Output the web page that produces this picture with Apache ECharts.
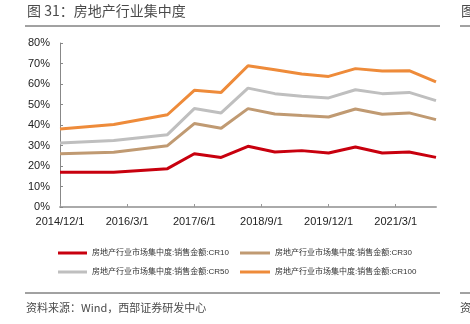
<!DOCTYPE html>
<html>
<head>
<meta charset="utf-8">
<script src="https://cdn.jsdelivr.net/npm/echarts@6/dist/echarts.min.js"></script>
<style>
html,body{margin:0;padding:0;background:#fff;}
#c{width:470px;height:324px;}
</style>
</head>
<body>
<div id="c"></div>
<script>
// Dates of observations (year, month)
const dates = ['2014/12','2015/12','2016/12','2017/6','2017/12','2018/6','2018/12','2019/6','2019/12','2020/6','2020/12','2021/6','2021/12'];
const cr10  = [16.9, 16.9, 18.7, 26.0, 24.2, 29.6, 26.8, 27.5, 26.3, 29.3, 26.3, 26.8, 24.2];
const cr30  = [26.0, 26.7, 29.9, 40.7, 38.4, 48.0, 45.4, 44.6, 43.9, 47.8, 45.2, 45.9, 42.6];
const cr50  = [31.2, 32.4, 35.3, 48.0, 45.9, 58.0, 55.3, 54.0, 53.2, 57.2, 55.3, 55.9, 51.9];
const cr100 = [38.0, 40.2, 45.0, 56.9, 55.9, 68.9, 67.0, 64.9, 63.7, 67.5, 66.3, 66.5, 61.0];
const seriesNames = ['房地产行业市场集中度:销售金额:CR10','房地产行业市场集中度:销售金额:CR30','房地产行业市场集中度:销售金额:CR50','房地产行业市场集中度:销售金额:CR100'];
const xTickLabels = ['2014/12/1','2016/3/1','2017/6/1','2018/9/1','2019/12/1','2021/3/1'];
const yTicks = [0,10,20,30,40,50,60,70,80];

const base = {y:2014, m:12};
function monthIndex(s){const p=s.split('/').map(Number);return (p[0]-base.y)*12+(p[1]-base.m);}
const xs = dates.map(monthIndex);
const tickVals = xTickLabels.map(monthIndex);
const lastX = xs[xs.length-1];
function pts(arr){return arr.map((v,i)=>[xs[i],v]);}

const colors = ['#C8000E','#C09A72','#BFBFBF','#EE8B3A'];
const font = 'Liberation Sans, Arial, Noto Sans CJK SC, sans-serif';
const cjk = 'Noto Sans CJK SC, sans-serif';

const chart = echarts.init(document.getElementById('c'), null, {renderer:'canvas'});
chart.setOption({
  animation:false,
  backgroundColor:'#fff',
  color:colors,
  grid:{left:60,right:34,top:43,bottom:117,containLabel:false},
  xAxis:{
    type:'value',min:0,max:lastX,interval:15,
    splitLine:{show:false},
    axisLine:{lineStyle:{color:'#AAAAAA',width:2}},
    axisTick:{inside:true,length:3,lineStyle:{color:'#999',width:1},customValues:tickVals},
    axisLabel:{customValues:tickVals,color:'#222',fontSize:11,fontFamily:font,margin:9,
      formatter:function(v){const y=base.y+Math.floor((base.m-1+v)/12);const m=((base.m-1+v)%12)+1;return y+'/'+m+'/1';}}
  },
  yAxis:{
    type:'value',min:yTicks[0],max:yTicks[yTicks.length-1],interval:10,
    splitLine:{show:false},
    axisLine:{show:true,lineStyle:{color:'#888',width:1}},
    axisTick:{show:true,inside:true,length:3,lineStyle:{color:'#888'}},
    axisLabel:{color:'#222',fontSize:11,fontFamily:font,margin:10,formatter:'{value}%'}
  },
  legend:[
    {data:[seriesNames[0],seriesNames[2]],orient:'vertical',left:53,top:243,icon:'rect',itemWidth:29,itemHeight:3,itemGap:9,
     textStyle:{fontSize:8,fontFamily:font,color:'#333',lineHeight:10}},
    {data:[seriesNames[1],seriesNames[3]],orient:'vertical',left:235,top:243,icon:'rect',itemWidth:30,itemHeight:3,itemGap:9,
     textStyle:{fontSize:8,fontFamily:font,color:'#333',lineHeight:10}}
  ],
  series:[cr10,cr30,cr50,cr100].map((d,i)=>({
    name:seriesNames[i],type:'line',data:pts(d),symbol:'none',
    lineStyle:{width:3,color:colors[i]},itemStyle:{color:colors[i]}
  })),
  graphic:[
    {type:'text',left:27,top:4,style:{text:'图 31：房地产行业集中度',font:'14px '+cjk,fill:'#4a4a4a'}},
    {type:'text',left:461,top:4,style:{text:'图',font:'14px '+cjk,fill:'#4a4a4a'}},
    {type:'line',shape:{x1:25,y1:26,x2:440,y2:26},style:{stroke:'#444',lineWidth:1}},
    {type:'line',shape:{x1:460,y1:26,x2:470,y2:26},style:{stroke:'#444',lineWidth:1}},
    {type:'line',shape:{x1:25,y1:293,x2:440,y2:293},style:{stroke:'#444',lineWidth:1}},
    {type:'line',shape:{x1:460,y1:293,x2:470,y2:293},style:{stroke:'#444',lineWidth:1}},
    {type:'text',left:26,top:302,style:{text:'资料来源：Wind，西部证券研发中心',font:'11px '+cjk,fill:'#4a4a4a'}},
    {type:'text',left:460,top:302,style:{text:'资',font:'11px '+cjk,fill:'#4a4a4a'}}
  ]
});
</script>
</body>
</html>
